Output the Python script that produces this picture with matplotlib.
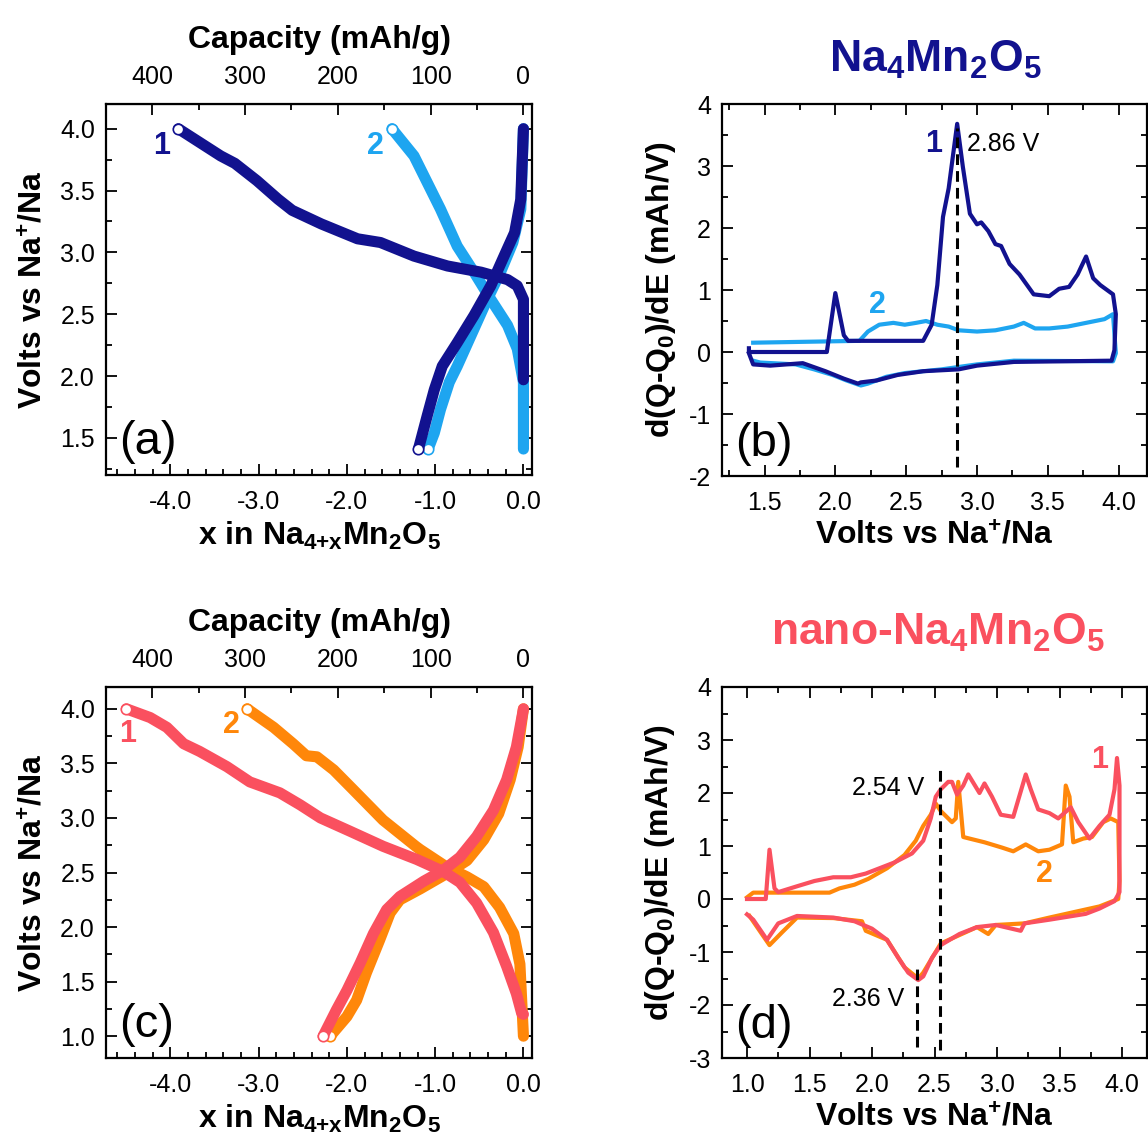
# Voltage profiles and dQ/dV curves for bulk and nano Na4Mn2O5 (four panels).

import matplotlib
matplotlib.use("Agg")
import matplotlib.pyplot as plt
from matplotlib.ticker import MultipleLocator, FormatStrFormatter

plt.rcParams["font.family"] = ["Liberation Sans", "DejaVu Sans"]
plt.rcParams["mathtext.default"] = "regular"
plt.rcParams["axes.unicode_minus"] = False

NAVY = "#12128F"
LIGHT_BLUE = "#1EA5F0"
CORAL = "#FA505F"
ORANGE = "#FF870A"

MAH_PER_X = 95.1  # mAh/g per Na for Na4Mn2O5

# ---- (a) bulk Na4Mn2O5, x vs V ----
a_chg1_x = [0.0, 0.0, 0.0, -0.07, -0.18, -0.48, -0.86, -1.24, -1.62, -1.88, -2.29,
            -2.62, -2.78, -3.02, -3.27, -3.43, -3.67, -3.91]
a_chg1_v = [1.97, 2.40, 2.62, 2.73, 2.78, 2.84, 2.89, 2.97, 3.08, 3.11, 3.23,
            3.34, 3.43, 3.58, 3.72, 3.78, 3.89, 4.00]
a_dis1_x = [0.0, -0.03, -0.10, -0.22, -0.37, -0.56, -0.75, -0.92, -1.01, -1.09, -1.19]
a_dis1_v = [4.00, 3.43, 3.16, 2.97, 2.73, 2.49, 2.27, 2.08, 1.89, 1.68, 1.41]
a_chg2_x = [0.0, 0.0, -0.07, -0.18, -0.37, -0.56, -0.75, -0.94, -1.24, -1.49]
a_chg2_v = [1.41, 1.95, 2.22, 2.41, 2.62, 2.84, 3.05, 3.35, 3.78, 4.00]
a_dis2_x = [0.0, -0.03, -0.12, -0.26, -0.41, -0.58, -0.75, -0.84, -0.94, -1.01, -1.08]
a_dis2_v = [4.00, 3.35, 3.08, 2.84, 2.62, 2.35, 2.08, 1.95, 1.73, 1.54, 1.41]

# ---- (c) nano Na4Mn2O5, x vs V ----
c_chg1_x = [0.0, -0.02, -0.08, -0.19, -0.34, -0.53, -0.72, -0.91, -1.21, -1.59, -1.97,
            -2.30, -2.53, -2.76, -3.10, -3.36, -3.67, -3.85, -4.04, -4.23, -4.50]
c_chg1_v = [1.20, 1.21, 1.39, 1.64, 1.95, 2.22, 2.41, 2.51, 2.62, 2.74, 2.88,
            3.00, 3.12, 3.23, 3.33, 3.47, 3.61, 3.68, 3.83, 3.92, 4.00]
c_dis1_x = [0.0, -0.08, -0.19, -0.34, -0.53, -0.72, -0.91, -1.13, -1.40, -1.55, -1.70,
            -1.85, -2.00, -2.12, -2.27]
c_dis1_v = [4.00, 3.65, 3.35, 3.07, 2.83, 2.64, 2.52, 2.42, 2.28, 2.16, 1.94,
            1.67, 1.42, 1.24, 1.00]
c_chg2_x = [0.0, -0.04, -0.11, -0.27, -0.45, -0.64, -0.87, -1.17, -1.22, -1.59, -1.93,
            -2.15, -2.34, -2.46, -2.61, -2.83, -3.13]
c_chg2_v = [1.00, 1.66, 1.94, 2.18, 2.37, 2.46, 2.55, 2.71, 2.74, 2.98, 3.26,
            3.44, 3.56, 3.57, 3.68, 3.83, 4.00]
c_dis2_x = [0.0, -0.06, -0.15, -0.28, -0.45, -0.64, -0.87, -1.17, -1.40, -1.51, -1.63,
            -1.78, -1.89, -2.00, -2.19]
c_dis2_v = [4.00, 3.65, 3.35, 3.04, 2.80, 2.61, 2.49, 2.35, 2.25, 2.13, 1.88,
            1.58, 1.33, 1.18, 1.00]

# ---- (b) bulk dQ/dV ----
b_cyc1_v = [1.39, 1.39, 1.94, 2.00, 2.06, 2.09, 2.62, 2.68, 2.72, 2.76, 2.80, 2.86,
            2.90, 2.95, 3.00, 3.03, 3.08, 3.13, 3.17, 3.23, 3.30, 3.40, 3.51, 3.58,
            3.65, 3.71, 3.77, 3.82, 3.87, 3.96, 3.98, 3.97, 3.95, 3.26, 3.00, 2.87,
            2.62, 2.44, 2.29, 2.18, 2.16, 2.06, 1.93, 1.77, 1.54, 1.42, 1.39]
b_cyc1_d = [0.06, 0.0, 0.0, 0.95, 0.27, 0.18, 0.18, 0.44, 1.08, 2.18, 2.64, 3.68,
            2.99, 2.23, 2.06, 2.09, 1.95, 1.74, 1.71, 1.42, 1.25, 0.93, 0.90, 1.02,
            1.05, 1.25, 1.54, 1.19, 1.08, 0.93, 0.61, 0.03, -0.14, -0.16, -0.22, -0.28,
            -0.31, -0.37, -0.46, -0.49, -0.51, -0.43, -0.31, -0.18, -0.22, -0.20, -0.02]
b_cyc2_v = [1.42, 2.17, 2.23, 2.31, 2.41, 2.49, 2.57, 2.64, 2.72, 2.80, 2.87, 3.00,
            3.13, 3.26, 3.33, 3.41, 3.51, 3.64, 3.77, 3.90, 3.96, 3.98, 3.96, 3.26,
            3.00, 2.75, 2.49, 2.36, 2.23, 2.18, 2.08, 1.98, 1.85, 1.72, 1.47, 1.42]
b_cyc2_d = [0.15, 0.18, 0.33, 0.44, 0.47, 0.44, 0.47, 0.50, 0.44, 0.41, 0.35, 0.33,
            0.35, 0.41, 0.47, 0.38, 0.38, 0.41, 0.47, 0.53, 0.61, -0.02, -0.15, -0.14,
            -0.20, -0.28, -0.34, -0.40, -0.51, -0.54, -0.46, -0.37, -0.28, -0.20, -0.17,
            -0.14]

# ---- (d) nano dQ/dV ----
d_cyc1_v = [1.00, 1.15, 1.18, 1.22, 1.25, 1.40, 1.54, 1.69, 1.83, 1.95, 2.06, 2.18,
            2.32, 2.41, 2.47, 2.51, 2.55, 2.61, 2.64, 2.68, 2.73, 2.77, 2.86, 2.90,
            2.96, 3.03, 3.13, 3.23, 3.27, 3.33, 3.42, 3.49, 3.59, 3.65, 3.74, 3.82,
            3.90, 3.94, 3.96, 3.98, 3.98, 3.94, 3.82, 3.71, 3.42, 3.22, 3.19, 2.99,
            2.84, 2.70, 2.55, 2.48, 2.41, 2.37, 2.29, 2.21, 2.12, 2.00, 1.86, 1.69,
            1.40, 1.25, 1.16, 1.12, 1.05, 1.00]
d_cyc1_d = [0.0, 0.0, 0.93, 0.20, 0.13, 0.24, 0.34, 0.41, 0.41, 0.48, 0.58, 0.69,
            0.86, 1.10, 1.52, 1.93, 2.07, 2.21, 2.21, 1.97, 2.14, 2.35, 2.00, 2.18,
            1.93, 1.59, 1.55, 2.35, 2.07, 1.69, 1.62, 1.52, 1.73, 1.45, 1.14, 1.38,
            1.59, 2.07, 2.66, 2.14, 0.13, -0.04, -0.18, -0.28, -0.39, -0.46, -0.60, -0.49,
            -0.53, -0.66, -0.87, -1.11, -1.46, -1.53, -1.39, -1.11, -0.77, -0.56, -0.42, -0.35,
            -0.32, -0.46, -0.77, -0.63, -0.39, -0.29]
d_cyc2_v = [1.00, 1.05, 1.66, 1.74, 1.86, 1.97, 2.12, 2.26, 2.35, 2.41, 2.47, 2.51,
            2.55, 2.64, 2.67, 2.69, 2.73, 2.78, 2.90, 3.04, 3.13, 3.23, 3.33, 3.42,
            3.52, 3.55, 3.58, 3.61, 3.69, 3.76, 3.85, 3.91, 3.97, 3.98, 3.97, 3.82,
            3.42, 3.22, 2.99, 2.93, 2.84, 2.55, 2.41, 2.37, 2.26, 2.12, 1.95, 1.92,
            1.69, 1.40, 1.28, 1.18, 1.11, 1.02]
d_cyc2_d = [0.03, 0.12, 0.12, 0.20, 0.27, 0.38, 0.58, 0.83, 1.10, 1.38, 1.59, 1.80,
            1.66, 1.45, 1.52, 2.21, 1.17, 1.14, 1.07, 0.97, 0.90, 1.03, 0.90, 0.93,
            1.03, 2.14, 1.93, 1.07, 1.14, 1.17, 1.45, 1.52, 1.45, 0.34, 0.0, -0.14,
            -0.35, -0.46, -0.49, -0.66, -0.53, -0.84, -1.39, -1.50, -1.29, -0.77, -0.60, -0.42,
            -0.36, -0.35, -0.63, -0.87, -0.63, -0.32]

TICK_FS = 18
LABEL_FS = 23
DASH = (0, (3.5, 2))


def style_axes(ax):
    for sp in ax.spines.values():
        sp.set_linewidth(1.6)
    ax.tick_params(which="both", direction="in", width=1.3, labelsize=TICK_FS)
    ax.tick_params(which="major", length=8)
    ax.tick_params(which="minor", length=4.5)


def profile_panel(ax, curves, ylim, yticks, label):
    # curves: list of (x, v, colour); drawn as thick bands with open end markers
    for x, v, col in curves:
        ax.plot(x, v, color=col, lw=8, solid_capstyle="round", solid_joinstyle="round")
        ax.plot(x[-1], v[-1], "o", ms=7.5, mfc="white", mec=col, mew=1.2)
    ax.set_xlim(-4.73, 0.097)
    ax.set_ylim(*ylim)
    ax.set_yticks(yticks)
    ax.yaxis.set_major_formatter(FormatStrFormatter("%.1f"))
    ax.yaxis.set_minor_locator(MultipleLocator(0.25))
    ax.xaxis.set_major_locator(MultipleLocator(1.0))
    ax.xaxis.set_minor_locator(MultipleLocator(0.2))
    ax.xaxis.set_major_formatter(FormatStrFormatter("%.1f"))
    style_axes(ax)
    ax.tick_params(which="both", top=False, right=True)
    ax.tick_params(axis="x", pad=11)
    ax.tick_params(axis="y", pad=8)
    ax.set_xlabel("x in Na$_{4{+}x}$Mn$_2$O$_5$", fontsize=LABEL_FS, fontweight="bold", labelpad=4)
    ax.set_ylabel("Volts vs Na$^{+}$/Na", fontsize=LABEL_FS, fontweight="bold", labelpad=8)

    sec = ax.secondary_xaxis("top", functions=(lambda x: -x * MAH_PER_X,
                                               lambda c: -c / MAH_PER_X))
    sec.xaxis.set_major_locator(MultipleLocator(100))
    sec.xaxis.set_minor_locator(MultipleLocator(50))
    sec.tick_params(which="both", direction="in", width=1.3, labelsize=TICK_FS, pad=11)
    sec.tick_params(which="major", length=8)
    sec.tick_params(which="minor", length=4.5)
    sec.set_xlabel("Capacity (mAh/g)", fontsize=LABEL_FS, fontweight="bold", labelpad=12)

    ax.text(0.03, 0.09, label, transform=ax.transAxes, fontsize=34, va="center", ha="left")


def dqdv_panel(ax, curves, xlim, ylim, xticks, label):
    for x, d, col in curves:
        ax.plot(x, d, color=col, lw=3, solid_joinstyle="round")
    ax.set_xlim(*xlim)
    ax.set_ylim(*ylim)
    ax.set_xticks(xticks)
    ax.xaxis.set_major_formatter(FormatStrFormatter("%.1f"))
    ax.xaxis.set_minor_locator(MultipleLocator(0.25))
    ax.yaxis.set_major_locator(MultipleLocator(1))
    ax.yaxis.set_minor_locator(MultipleLocator(0.5))
    style_axes(ax)
    ax.tick_params(which="both", top=True, right=True)
    ax.tick_params(axis="x", pad=11)
    ax.tick_params(axis="y", pad=8)
    ax.set_xlabel("Volts vs Na$^{+}$/Na", fontsize=LABEL_FS, fontweight="bold", labelpad=4)
    ax.set_ylabel("d(Q-Q$_0$)/dE (mAh/V)", fontsize=LABEL_FS, fontweight="bold", labelpad=8)
    ax.text(0.03, 0.085, label, transform=ax.transAxes, fontsize=34, va="center", ha="left")


fig = plt.figure(figsize=(11.48, 11.44), dpi=100)

ax_a = fig.add_axes([106 / 1148, 1 - 475 / 1144, 426 / 1148, 371 / 1144])
ax_b = fig.add_axes([722 / 1148, 1 - 476 / 1144, 425 / 1148, 372 / 1144])
ax_c = fig.add_axes([106 / 1148, 1 - 1058 / 1144, 426 / 1148, 371 / 1144])
ax_d = fig.add_axes([722 / 1148, 1 - 1058 / 1144, 425 / 1148, 371 / 1144])

# (a)
profile_panel(ax_a, [(a_chg2_x, a_chg2_v, LIGHT_BLUE), (a_dis2_x, a_dis2_v, LIGHT_BLUE),
                     (a_dis1_x, a_dis1_v, NAVY), (a_chg1_x, a_chg1_v, NAVY)],
              (1.2, 4.2), [1.5, 2.0, 2.5, 3.0, 3.5, 4.0], "(a)")
ax_a.text(-4.10, 3.86, "1", color=NAVY, fontsize=22, fontweight="bold", ha="center", va="center")
ax_a.text(-1.68, 3.86, "2", color=LIGHT_BLUE, fontsize=22, fontweight="bold", ha="center", va="center")

# (c)
profile_panel(ax_c, [(c_chg2_x, c_chg2_v, ORANGE), (c_dis2_x, c_dis2_v, ORANGE),
                     (c_chg1_x, c_chg1_v, CORAL), (c_dis1_x, c_dis1_v, CORAL)],
              (0.8, 4.2), [1.0, 1.5, 2.0, 2.5, 3.0, 3.5, 4.0], "(c)")
ax_c.text(-4.49, 3.77, "1", color=CORAL, fontsize=22, fontweight="bold", ha="center", va="center")
ax_c.text(-3.31, 3.85, "2", color=ORANGE, fontsize=22, fontweight="bold", ha="center", va="center")

# (b)
dqdv_panel(ax_b, [(b_cyc2_v, b_cyc2_d, LIGHT_BLUE), (b_cyc1_v, b_cyc1_d, NAVY)],
           (1.2, 4.2), (-2, 4), [1.5, 2.0, 2.5, 3.0, 3.5, 4.0], "(b)")
ax_b.plot([2.86, 2.86], [-1.85, 3.62], color="black", lw=2.2, ls=DASH)
ax_b.text(2.695, 3.36, "1", color=NAVY, fontsize=22, fontweight="bold", ha="center", va="center")
ax_b.text(2.93, 3.36, "2.86 V", color="black", fontsize=18, ha="left", va="center")
ax_b.text(2.30, 0.76, "2", color=LIGHT_BLUE, fontsize=22, fontweight="bold", ha="center", va="center")

# (d)
dqdv_panel(ax_d, [(d_cyc2_v, d_cyc2_d, ORANGE), (d_cyc1_v, d_cyc1_d, CORAL)],
           (0.8, 4.2), (-3, 4), [1.0, 1.5, 2.0, 2.5, 3.0, 3.5, 4.0], "(d)")
ax_d.plot([2.54, 2.54], [-2.85, 2.45], color="black", lw=2.2, ls=DASH)
ax_d.plot([2.36, 2.36], [-2.80, -1.22], color="black", lw=2.2, ls=DASH)
ax_d.text(2.42, 2.09, "2.54 V", color="black", fontsize=18, ha="right", va="center")
ax_d.text(2.26, -1.88, "2.36 V", color="black", fontsize=18, ha="right", va="center")
ax_d.text(3.82, 2.63, "1", color=CORAL, fontsize=22, fontweight="bold", ha="center", va="center")
ax_d.text(3.38, 0.48, "2", color=ORANGE, fontsize=22, fontweight="bold", ha="center", va="center")

# compound titles above the dQ/dV panels
fig.text(0.815, 1 - 72 / 1144, "Na$_4$Mn$_2$O$_5$", color=NAVY, fontsize=32,
         fontweight="bold", ha="center", va="baseline")
fig.text(0.817, 1 - 645 / 1144, "nano-Na$_4$Mn$_2$O$_5$", color=CORAL, fontsize=32,
         fontweight="bold", ha="center", va="baseline")

fig.savefig("out.png", dpi=100)
